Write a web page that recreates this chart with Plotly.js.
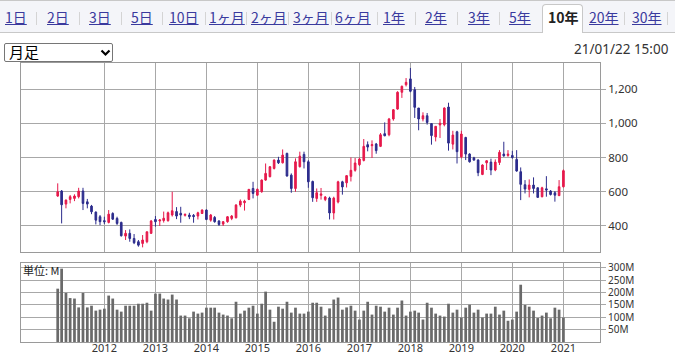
<!DOCTYPE html>
<html><head><meta charset="utf-8">
<script src="https://cdn.plot.ly/plotly-3.0.1.min.js"></script>
<style>
html,body{margin:0;padding:0;background:#fff;width:675px;height:355px;overflow:hidden;font-family:"Noto Sans CJK JP","Noto Sans",sans-serif;}
#chart{position:absolute;left:0;top:0;width:675px;height:355px;z-index:1;}
#tabs{position:absolute;left:0;top:0;width:675px;height:33px;background:#f4f5f9;border-top:1px solid #c8c8c8;border-bottom:1px solid #c8c8c8;box-sizing:border-box;z-index:2;}
.tab{position:absolute;top:8px;font-size:14px;line-height:18px;color:#3a3a9e;text-decoration:underline;white-space:nowrap;z-index:4;}
.sep{position:absolute;top:12px;width:1px;height:13px;background:#d4d4d4;z-index:3;}
#seltab{position:absolute;left:542px;top:4px;width:41px;height:29px;background:#fff;border:1px solid #c8c8c8;border-bottom:none;border-radius:4px 4px 0 0;box-sizing:border-box;z-index:3;}
.cur{color:#222;font-weight:bold;text-decoration:none;}
#dd{position:absolute;left:4px;top:43px;width:109px;height:19px;border:1px solid #767676;border-radius:2px;box-sizing:border-box;background:#fff;z-index:2;}
#dd span{position:absolute;left:4px;top:-1px;font-size:15px;line-height:18px;color:#000;}
#dd svg{position:absolute;left:95px;top:5px;}
#ts{position:absolute;left:574px;top:40px;font-family:"Noto Sans",sans-serif;font-size:13.5px;line-height:18px;color:#333;z-index:2;}
#unit{position:absolute;left:23px;top:264px;font-size:11px;line-height:13px;color:#222;z-index:2;}
</style></head>
<body>
<div id="chart"></div>
<div id="tabs"></div>
<div id="seltab"></div>
<div id="dd"><span>月足</span><svg width="11" height="8" viewBox="0 0 11 8"><path d="M1.5 1.5 L5.5 5.5 L9.5 1.5" fill="none" stroke="#000" stroke-width="2.2"/></svg></div>
<div id="ts">21/01/22 15:00</div>
<div id="unit">単位: M</div>
<script>
// ---- data ----
const tabLabels = ['1日','2日','3日','5日','10日','1ヶ月','2ヶ月','3ヶ月','6ヶ月','1年','2年','3年','5年','10年','20年','30年'];
const currentTab = '10年';
const startMonth = '2011-02';
const yearTicks = ['2012','2013','2014','2015','2016','2017','2018','2019','2020','2021'];
const openP = [
 575,604,528,555,561,571,604,541,516,481,454,
 431,421,473,444,421,341,357,327,308,298,308,357,
 438,429,432,431,464,484,474,462,464,462,458,473,
 493,434,450,429,411,425,444,448,522,536,555,619,
 580,600,668,688,736,785,769,824,697,619,746,818,
 775,660,561,579,554,563,476,540,658,652,690,725,
 758,783,875,869,879,865,939,933,1025,1083,1181,1225,
 1259,1196,1089,1025,1044,998,920,990,992,1095,878,950,
 804,917,820,798,785,701,769,773,727,771,820,812,
 812,789,717,641,614,639,623,571,617,604,594,577,
 629];
const highP = [
 649,610,555,581,585,623,623,558,523,485,464,
 454,493,480,454,425,376,380,353,318,347,367,435,
 458,440,484,484,600,510,512,472,477,470,483,497,
 497,470,458,434,429,458,464,528,555,553,614,658,
 619,672,765,750,789,804,847,828,707,795,834,834,
 785,665,619,622,575,571,571,664,664,697,800,797,
 800,908,894,900,885,943,1005,1031,1083,1187,1220,1264,
 1323,1212,1089,1064,1060,1001,982,1025,1093,1120,956,956,
 956,921,825,804,790,760,785,793,789,843,892,843,
 839,843,742,668,672,684,625,629,691,610,604,668,
 730];
const lowP = [
 570,415,503,532,545,561,493,503,469,409,405,
 411,415,435,406,338,318,308,294,279,275,299,353,
 396,400,420,425,455,440,419,455,440,419,438,470,
 434,425,419,400,400,419,434,444,510,490,551,561,
 575,594,664,684,730,762,765,688,594,600,742,736,
 623,541,541,554,545,438,438,532,583,625,660,717,
 750,777,836,797,822,861,924,924,1015,1079,1148,1215,
 1181,1031,959,1011,992,875,894,914,982,840,847,765,
 795,785,770,781,691,697,727,697,720,756,804,804,
 793,717,551,590,567,590,567,567,571,578,542,575,
 625];
const closeP = [
 600,524,551,571,575,604,532,528,483,434,425,
 425,469,440,415,343,357,327,302,288,318,366,429,
 425,435,445,477,489,458,464,468,454,455,477,493,
 438,464,425,409,425,454,458,522,545,545,614,590,
 614,668,707,746,785,769,814,692,619,775,808,775,
 658,565,594,587,569,476,563,658,628,694,725,768,
 791,865,861,875,840,933,927,1025,1079,1181,1216,1239,
 1187,1093,1025,1044,1005,928,982,1000,1089,884,931,834,
 937,820,775,785,711,756,781,727,773,830,810,820,
 800,721,643,616,639,619,567,623,610,584,580,629,
 723];
const volumeM = [
 216,297,199,178,176,140,199,140,147,127,131,
 135,188,176,131,123,147,147,147,155,155,159,127,
 196,196,176,172,192,172,107,107,96,123,115,119,
 139,139,139,119,111,107,96,163,115,127,139,147,
 115,155,204,131,82,143,135,163,119,139,115,115,
 123,159,159,143,107,136,172,180,131,140,147,127,
 91,127,163,111,147,143,123,139,111,139,168,107,
 123,127,119,91,159,139,115,107,103,155,119,131,
 99,139,151,119,131,99,115,115,143,111,127,86,
 91,123,232,150,143,127,97,107,119,96,139,131,
 99];
const priceTicks = [400,600,800,1000,1200];
const priceTickText = ['400','600','800','1,000','1,200'];
const volTicks = [50,100,150,200,250,300];
const volTickText = ['50M','100M','150M','200M','250M','300M'];

// month categories
const months = [];
{ let [y,m] = startMonth.split('-').map(Number);
  for (let i=0;i<openP.length;i++){ months.push(y+'-'+String(m).padStart(2,'0')+'-01'); m++; if(m>12){m=1;y++;} } }
const yearTickVals = yearTicks.map(y=>y+'-01-01');

// ---- tabs (HTML) ----
const tabX = [5,47,89,131,169,209,251,293,335,383,425,468,509,548,589,632];
const sepX = [36,79,121,162,205,246,288,331,377,415,457,499,624,667];
tabLabels.forEach((t,i)=>{
  const s=document.createElement('span'); s.className='tab'+(t===currentTab?' cur':''); s.textContent=t; s.style.left=tabX[i]+'px';
  document.body.appendChild(s);
});
sepX.forEach(x=>{ const d=document.createElement('div'); d.className='sep'; d.style.left=x+'px'; document.body.appendChild(d); });

// ---- chart ----
const RED='#e6194b', BLUE='#2c2c8c', GRID='#a8a8a8', LINE='#9a9a9a', VOL='#6a6a6a';
const tickFont={family:'Noto Sans, sans-serif', size:11.5, color:'#333'};
const yearFont={family:'Noto Sans, sans-serif', size:11, color:'#333'};
const volFont={family:'Noto Sans, sans-serif', size:10, color:'#333'};
const traces=[
 {type:'candlestick', x:months, open:openP, high:highP, low:lowP, close:closeP, xaxis:'x', yaxis:'y',
  increasing:{line:{color:RED,width:1}, fillcolor:RED}, decreasing:{line:{color:BLUE,width:1}, fillcolor:BLUE},
  whiskerwidth:0, hoverinfo:'skip', showlegend:false},
 {type:'bar', x:months, y:volumeM, xaxis:'x2', yaxis:'y2', marker:{color:VOL, line:{width:0}}, hoverinfo:'skip', showlegend:false}
];
const xcommon={type:'date', range:['2010-05-14','2021-09-20'], tickmode:'array', tickvals:yearTickVals, ticktext:yearTicks,
  showgrid:true, gridcolor:GRID, gridwidth:1,
  showline:true, mirror:true, linecolor:LINE, linewidth:1, zeroline:false, ticks:'', fixedrange:true};
const layout={
 width:675, height:355, margin:{l:21,r:75,t:63,b:13}, paper_bgcolor:'rgba(0,0,0,0)', plot_bgcolor:'#fff',
 showlegend:false, boxgap:0.4, bargap:0.3,
 xaxis:Object.assign({}, xcommon, {anchor:'y', showticklabels:false, rangeslider:{visible:false}}),
 xaxis2:Object.assign({}, xcommon, {anchor:'y2', matches:'x', showticklabels:true, tickfont:yearFont, ticklabelstandoff:-4, rangeslider:{visible:false}}),
 yaxis:{domain:[0.3226,1], range:[248,1352], side:'right', tickvals:priceTicks, ticktext:priceTickText, ticks:'outside', ticklen:5, tickcolor:GRID,
  showgrid:true, gridcolor:GRID, gridwidth:1, showline:true, mirror:true, linecolor:LINE, zeroline:false, tickfont:tickFont, fixedrange:true},
 yaxis2:{domain:[0,0.2832], range:[0,320], side:'right', tickvals:volTicks, ticktext:volTickText, ticks:'outside', ticklen:5, tickcolor:GRID,
  showgrid:true, gridcolor:GRID, gridwidth:1, showline:true, mirror:true, linecolor:LINE, zeroline:false, tickfont:volFont, fixedrange:true}
};
Plotly.newPlot('chart', traces, layout, {displayModeBar:false, staticPlot:true});
</script>
</body></html>
